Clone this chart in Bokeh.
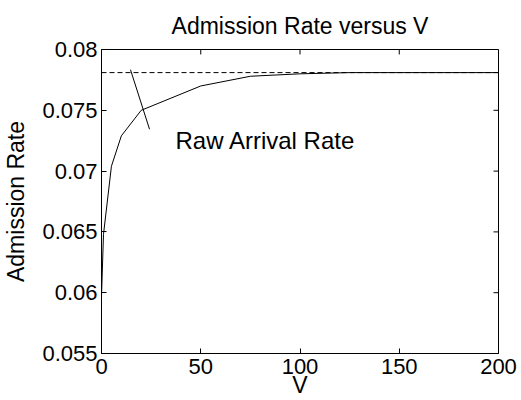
from bokeh.plotting import figure
from bokeh.models import Range1d, FixedTicker
from bokeh.core.properties import value
from bokeh.embed import file_html
from bokeh.resources import INLINE

# data
v = [0, 1, 5, 10, 20, 50, 75, 100, 125, 150, 200]
admission_rate = [0.0597, 0.0648, 0.0704, 0.0729, 0.0750, 0.0770, 0.0778,
                  0.0780, 0.0781, 0.0781, 0.0781]
raw_v = [0, 200]
raw_rate = [0.0781, 0.0781]
pointer_v = [14.6, 24.2]
pointer_rate = [0.07834, 0.07344]
label_v = [37.3]
label_rate = [0.07255]
label_text = ["Raw Arrival Rate"]
x_ticks = [0, 50, 100, 150, 200]
y_ticks = [0.055, 0.06, 0.065, 0.07, 0.075, 0.08]
y_tick_labels = ["0.055", "0.06", "0.065", "0.07", "0.075", "0.08"]

FONT = "Liberation Sans"
X0, X1 = 0, 200
Y0, Y1 = 0.055, 0.08
W, H = 521, 400
BL, BR, BT, BB = 101, 23, 48, 46
FW, FH = W - BL - BR, H - BT - BB
TICK = 5

p = figure(width=W, height=H, output_backend="svg", toolbar_location=None,
           x_range=Range1d(X0, X1), y_range=Range1d(Y0, Y1),
           min_border_left=BL, min_border_right=BR, min_border_top=BT,
           min_border_bottom=BB, title="Admission Rate versus V")
p.title.align = "center"
p.title.text_font = FONT
p.title.text_font_size = "23px"
p.title.text_font_style = "normal"
p.title.text_color = "black"
p.title.standoff = 21

p.xgrid.visible = False
p.ygrid.visible = False
p.outline_line_color = "black"
p.outline_line_width = 1
p.background_fill_color = "white"
p.border_fill_color = "white"

for ax in (p.xaxis[0], p.yaxis[0]):
    ax.major_tick_in = TICK
    ax.major_tick_out = 0
    ax.minor_tick_in = 0
    ax.minor_tick_out = 0
    ax.axis_line_color = "black"
    ax.major_tick_line_color = "black"
    ax.major_label_text_font = FONT
    ax.major_label_text_font_size = "22px"
    ax.major_label_text_color = "black"
    ax.axis_label_text_font = FONT
    ax.axis_label_text_font_size = "23px"
    ax.axis_label_text_font_style = "normal"
    ax.axis_label_text_color = "black"

p.xaxis[0].ticker = FixedTicker(ticks=x_ticks, minor_ticks=[])
p.yaxis[0].ticker = FixedTicker(ticks=y_ticks, minor_ticks=[])
p.yaxis[0].major_label_overrides = {t: s for t, s in zip(y_ticks, y_tick_labels)}
p.xaxis[0].axis_label = "V"
p.yaxis[0].axis_label = "Admission Rate"
p.xaxis[0].major_label_standoff = 5
p.xaxis[0].axis_label_standoff = -5
p.yaxis[0].major_label_standoff = 4
p.yaxis[0].axis_label_standoff = 10

# inward ticks on the top and right edges of the box
dy = TICK * (Y1 - Y0) / FH
dx = TICK * (X1 - X0) / FW
p.segment(x0=x_ticks, y0=[Y1] * len(x_ticks), x1=x_ticks, y1=[Y1 - dy] * len(x_ticks),
          line_color="black", line_width=1)
p.segment(x0=[X1] * len(y_ticks), y0=y_ticks, x1=[X1 - dx] * len(y_ticks), y1=y_ticks,
          line_color="black", line_width=1)

p.line(raw_v, raw_rate, line_color="black", line_width=1, line_dash="5 3")
p.line(v, admission_rate, line_color="black", line_width=1)
p.line(pointer_v, pointer_rate, line_color="black", line_width=1)
p.text(label_v, label_rate, text=label_text, text_font=value(FONT),
       text_font_size="24px", text_color="black", text_baseline="alphabetic",
       text_align="left")

open("out.html", "w").write(file_html(p, INLINE))
